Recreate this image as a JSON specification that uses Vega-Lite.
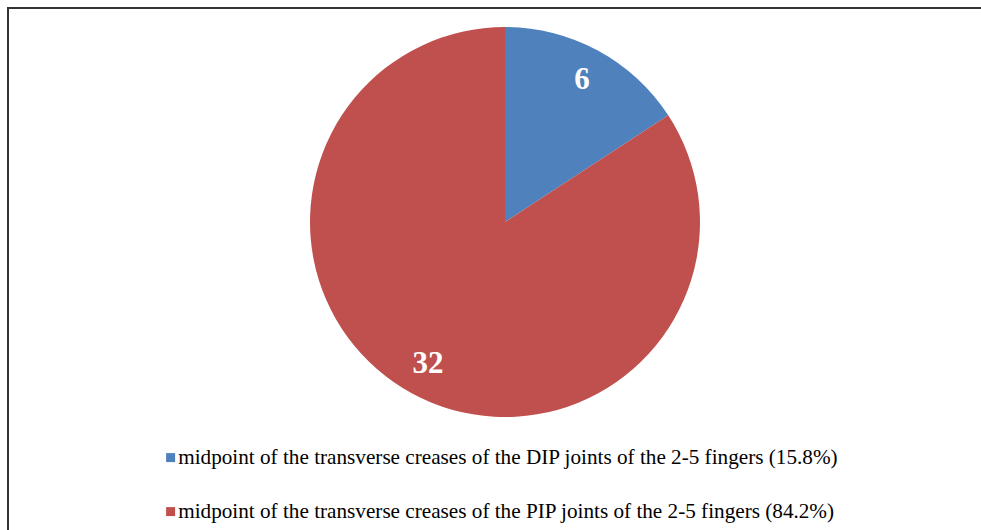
{
  "$schema": "https://vega.github.io/schema/vega-lite/v6.json",
  "autosize": "none",
  "width": 973,
  "height": 522,
  "padding": {"left": 8, "top": 8, "right": 0, "bottom": 0},
  "background": "white",
  "view": {"stroke": "#333333", "strokeWidth": 2, "fill": "white", "strokeDash": [973, 1495, 530]},
  "config": {
    "font": "Liberation Serif"
  },
  "data": {
    "values": [
      {"category": "midpoint of the transverse creases of the DIP joints of the 2-5 fingers (15.8%)", "count": 6},
      {"category": "midpoint of the transverse creases of the PIP joints of the 2-5 fingers (84.2%)", "count": 32}
    ]
  },
  "encoding": {
    "theta": {"field": "count", "type": "quantitative", "stack": true},
    "color": {
      "field": "category",
      "type": "nominal",
      "scale": {"range": ["#4F81BD", "#C0504D"]},
      "legend": {
        "title": null,
        "orient": "none",
        "legendX": 152,
        "legendY": 439,
        "symbolType": "square",
        "symbolSize": 81,
        "symbolStrokeWidth": 0,
        "labelFont": "Liberation Serif",
        "labelFontSize": 21.2,
        "labelColor": "#000000",
        "labelLimit": 900,
        "rowPadding": 32,
        "labelOffset": -3
      }
    }
  },
  "layer": [
    {
      "mark": {"type": "arc", "outerRadius": 195, "x": 497, "y": 214}
    },
    {
      "mark": {"type": "text", "radius": 162, "x": 497, "y": 214, "font": "Liberation Serif", "fontSize": 31, "fontWeight": "bold"},
      "encoding": {
        "text": {"field": "count", "type": "quantitative"},
        "color": {"value": "white"}
      }
    }
  ]
}
